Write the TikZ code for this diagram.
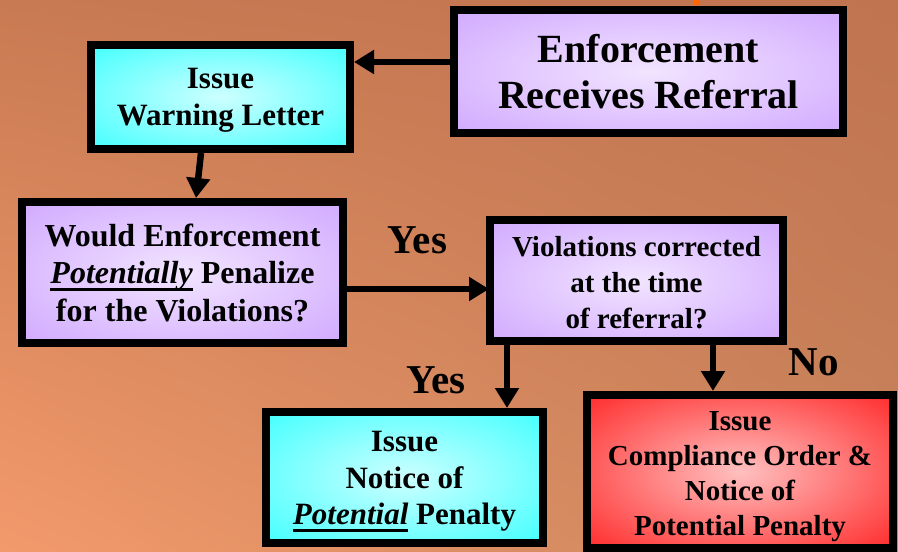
\documentclass[tikz,border=0pt]{standalone}
\usepackage{fontspec}
\setmainfont{Liberation Serif}
\usetikzlibrary{arrows.meta,shadings}

\definecolor{bgtl}{RGB}{200,122,82}
\definecolor{bgtr}{RGB}{192,116,80}
\definecolor{bgbl}{RGB}{243,154,108}
\definecolor{bgbr}{RGB}{200,132,92}
\definecolor{lavlight}{RGB}{242,228,255}
\definecolor{lavdark}{RGB}{200,154,255}
\definecolor{cyanlight}{RGB}{205,255,255}
\definecolor{cyandark}{RGB}{30,255,255}
\definecolor{redlight}{RGB}{255,192,192}
\definecolor{reddark}{RGB}{255,24,24}

\pgfdeclareradialshading{lavshade}{\pgfpointorigin}{color(0bp)=(lavlight); color(45bp)=(lavdark); color(72bp)=(lavdark)}
\pgfdeclareradialshading{cyanshade}{\pgfpointorigin}{color(0bp)=(cyanlight); color(45bp)=(cyandark); color(72bp)=(cyandark)}
\pgfdeclareradialshading{redshade}{\pgfpointorigin}{color(0bp)=(redlight); color(40bp)=(reddark); color(72bp)=(reddark)}

% thick underline, as in the slide
\newcommand{\thickul}[1]{\setbox0\hbox{#1}\rlap{\rule[-7.5pt]{\wd0}{3.5pt}}\box0\relax}
% taller first line pushes the text block down a little
\newcommand{\topgap}[1]{\rule{0pt}{#1}}

\begin{document}
\begin{tikzpicture}[x=1pt,y=-1pt]
   \tikzstyle{box}=[draw, line width=8pt, align=center, inner sep=0pt]
   \tikzstyle{lav}=[box, shading=lavshade]
   \tikzstyle{cyanbox}=[box, shading=cyanshade]
   \tikzstyle{redbox}=[box, shading=redshade]
   \tikzstyle{answer}=[anchor=base, font=\fontsize{41}{46}\selectfont\bfseries]
   \tikzstyle{arr}=[line width=6.5pt, -{Triangle[length=20pt,width=23pt]}]

\useasboundingbox (0,0) rectangle (898,552);
\shade[upper left=bgtl, upper right=bgtr, lower left=bgbl, lower right=bgbr] (0,0) rectangle (898,552);
\fill[orange!80!red] (693,0) rectangle (699,5);

\node[lav, minimum width=389pt, minimum height=123pt, font=\fontsize{40}{46}\selectfont\bfseries] (referral) at (648.5,71.5) {Enforcement\\Receives Referral};
\node[cyanbox, minimum width=259pt, minimum height=104pt, font=\fontsize{31}{37}\selectfont\bfseries] (warning) at (220.5,97) {\topgap{27pt}Issue\\Warning Letter};
\node[lav, minimum width=321pt, minimum height=141pt, font=\fontsize{32}{37.5}\selectfont\bfseries] (penalize) at (182.5,272.5) {Would Enforcement\\\thickul{\textit{Potentially}} Penalize\\for the Violations?};
\node[lav, minimum width=293pt, minimum height=121pt, font=\fontsize{29}{36}\selectfont\bfseries] (corrected) at (636.5,280.5) {\topgap{24pt}Violations corrected\\at the time\\of referral?};
\node[cyanbox, minimum width=277pt, minimum height=131pt, font=\fontsize{31}{36.5}\selectfont\bfseries] (notice) at (404.5,477.5) {\topgap{28.5pt}Issue\\Notice of\\\thickul{\textit{Potential}} Penalty};
\node[redbox, minimum width=306pt, minimum height=153pt, font=\fontsize{29}{35}\selectfont\bfseries] (order) at (740,471.5) {\topgap{29pt}Issue\\Compliance Order \&\\Notice of\\Potential Penalty};

\node[answer] (yesright) at (417.5,253) {Yes};
\node[answer] (yesdown) at (436,393) {Yes};
\node[answer] (no) at (813.5,375) {No};

\draw[arr] (referral.west |- 0,62) -- (warning.east |- 0,62);
\draw[arr] ([xshift=-19.5pt]warning.south) -- ([xshift=13.5pt]penalize.north);
\draw[arr] (penalize.east |- 0,289) -- ([xshift=3pt]corrected.west |- 0,289);
\draw[arr] ([xshift=-129.5pt]corrected.south) -- ([xshift=-129.5pt]corrected.south |- notice.north);
\draw[arr] ([xshift=76.5pt]corrected.south) -- ([xshift=76.5pt]corrected.south |- order.north);

\end{tikzpicture}
\end{document}
